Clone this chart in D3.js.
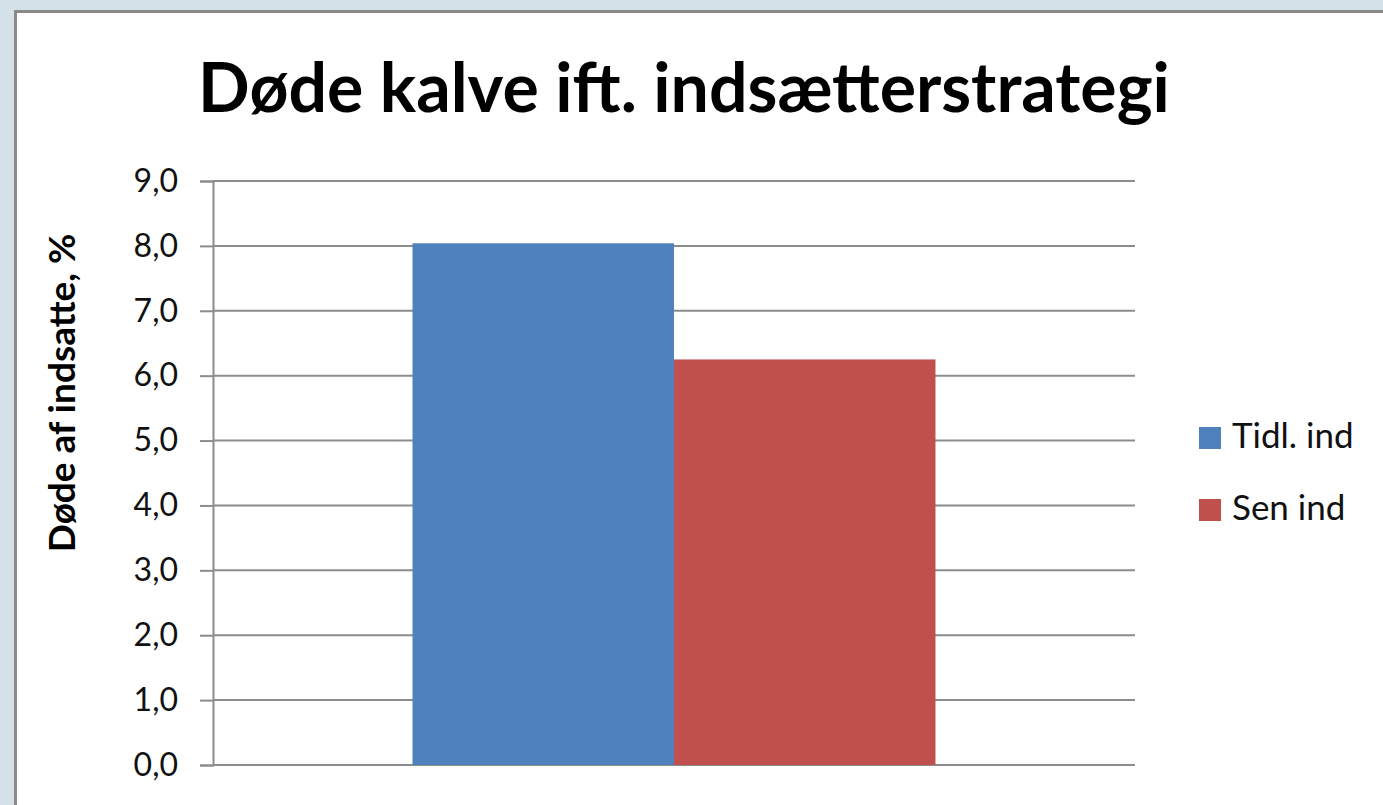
<!DOCTYPE html>
<html>
<head>
<meta charset="utf-8">
<script src="https://cdn.jsdelivr.net/npm/d3@7"></script>
<style>
  body { margin: 0; background: #d5e1e8; }
  svg { display: block; }
  text { font-family: Lato, "Open Sans", sans-serif; fill: #000; }
</style>
</head>
<body>
<svg width="1383" height="805"></svg>
<script>
// data
var seriesNames = ["Tidl. ind", "Sen ind"];
var seriesValues = [8.04, 6.25];
var seriesColors = ["#4f81bd", "#c0504d"];
var yTickValues = [0, 1, 2, 3, 4, 5, 6, 7, 8, 9];
var chartTitle = "Døde kalve ift. indsætterstrategi";
var yTitle = "Døde af indsatte, %";

document.addEventListener("DOMContentLoaded", function () {
  var svg = d3.select("svg");

  // white panel with grey edge, bleeding off right/bottom
  svg.append("rect")
    .attr("x", 15.5).attr("y", 11.5)
    .attr("width", 1400).attr("height", 820)
    .style("fill", "#fff")
    .style("stroke", "#8a8a8a")
    .style("stroke-width", "3px");

  var left = 213, right = 1135, top = 181, bottom = 765;

  var yScale = d3.scaleLinear().domain([0, 9]).range([bottom, top]);
  var xScale = d3.scaleBand().domain(seriesNames).range([left, right])
    .paddingInner(0).paddingOuter(0.763);

  var locale = d3.formatLocale({ decimal: ",", thousands: ".", grouping: [3], currency: ["", " kr"] });
  var fmt = locale.format(".1f");

  var yAxis = d3.axisLeft(yScale)
    .tickValues(yTickValues)
    .tickSize(13)
    .tickPadding(22)
    .tickFormat(fmt);

  var yAxisG = svg.append("g")
    .attr("id", "yAxisG")
    .attr("transform", "translate(" + left + ",0)")
    .call(yAxis);
  yAxisG.selectAll("line").style("stroke", "#8c8c8c").style("stroke-width", "2px");
  yAxisG.select("path.domain").style("stroke", "#8c8c8c").style("stroke-width", "2px");
  yAxisG.selectAll("text")
    .style("font-size", "32px")
    .style("font-family", "Lato, sans-serif")
    .style("fill", "#111");

  // gridlines
  svg.append("g")
    .selectAll("line.grid")
    .data(yTickValues).enter()
    .append("line")
    .attr("class", "grid")
    .attr("x1", left).attr("x2", right)
    .attr("y1", function (d) { return yScale(d); })
    .attr("y2", function (d) { return yScale(d); })
    .style("stroke", "#8c8c8c")
    .style("stroke-width", "2px");

  // bars
  svg.append("g")
    .selectAll("rect.bar")
    .data(seriesValues).enter()
    .append("rect")
    .attr("class", "bar")
    .attr("x", function (d, i) { return xScale(seriesNames[i]); })
    .attr("width", xScale.bandwidth())
    .attr("y", function (d) { return yScale(d); })
    .attr("height", function (d) { return yScale(0) - yScale(d); })
    .style("fill", function (d, i) { return seriesColors[i]; });

  // title
  svg.append("text")
    .attr("x", 684).attr("y", 112)
    .attr("text-anchor", "middle")
    .style("font-size", "68px")
    .style("font-weight", "bold")
    .text(chartTitle);

  // y axis title
  svg.append("text")
    .attr("transform", "translate(75,393) rotate(-90)")
    .attr("text-anchor", "middle")
    .style("font-size", "37px")
    .style("font-weight", "bold")
    .text(yTitle);

  // legend
  var legend = svg.append("g")
    .selectAll("g.item")
    .data(seriesNames).enter()
    .append("g")
    .attr("class", "item")
    .attr("transform", function (d, i) { return "translate(1199," + (427 + i * 72) + ")"; });

  legend.append("rect")
    .attr("width", 22).attr("height", 22)
    .style("fill", function (d, i) { return seriesColors[i]; });

  legend.append("text")
    .attr("x", 33).attr("y", 21)
    .style("font-size", "35px")
    .style("fill", "#111")
    .text(function (d) { return d; });
});
</script>
</body>
</html>
